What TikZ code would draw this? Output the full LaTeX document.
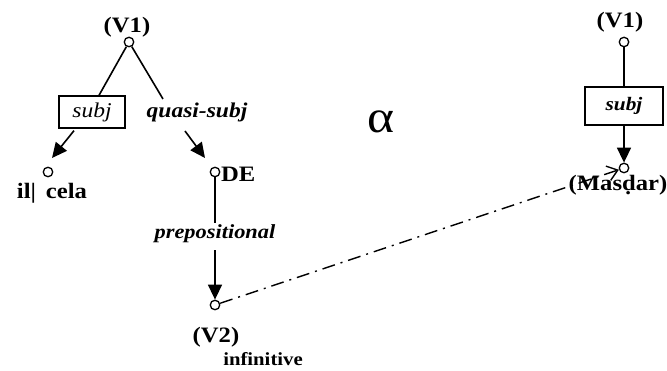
\documentclass[tikz,border=0pt]{standalone}
\usepackage{fontspec}
\setmainfont{Liberation Serif}[FakeStretch=1.12]
\usetikzlibrary{arrows.meta,positioning}

\begin{document}
\begin{tikzpicture}[x=1pt,y=-1pt,
    vtx/.style={circle,draw,line width=1.3pt,minimum size=9.5pt,inner sep=0pt},
    lbl/.style={font=\fontsize{22}{24}\selectfont\bfseries,inner sep=0pt,anchor=base},
    rel/.style={font=\fontsize{21}{24}\selectfont\bfseries\itshape,inner sep=0pt,anchor=base},
    relbox/.style={draw,line width=1.3pt,inner sep=0pt},
    edge/.style={line width=1.6pt},
    arr/.style={edge,-{Triangle[length=15pt,width=14pt]}}]
    \useasboundingbox (0,0) rectangle (667,371);

    % left tree
    \node[vtx] (v1) at (129,42) {};
    \node[lbl] (v1lbl) at (127,33) {(V1)};
    \node[relbox,minimum width=66pt,minimum height=32pt,font=\fontsize{21}{24}\selectfont\itshape] (subjL) at (92,112) {subj};
    \node[rel] (qsubj) at (197,118) {quasi-subj};
    \coordinate (qsTop) at (163,99);
    \coordinate (qsFrom) at (185,131);
    \coordinate (celaTip) at (52,158);
    \coordinate (deTip) at (205,158);
    \draw[edge] (v1) -- ([xshift=7pt]subjL.north);
    \draw[edge] (v1) -- (qsTop);

    \node[vtx] (cela) at (48,172) {};
    \node[lbl] (celalbl) at (52,199) {il|\hspace{0.45em}cela};
    \draw[arr] ([xshift=-18pt,yshift=-2pt]subjL.south) -- (celaTip);

    \node[vtx] (de) at (215,172) {};
    \node[lbl,anchor=base west] (delbl) at (221,182) {DE};
    \draw[arr] (qsFrom) -- (deTip);

    \node[rel,font=\fontsize{20}{24}\selectfont\bfseries\itshape] (prep) at (215,239) {prepositional};
    \draw[edge] (de) -- ([yshift=2pt]prep.north);

    \node[vtx] (v2) at (215,305) {};
    \draw[arr] ([yshift=-7pt]prep.south) -- (v2);
    \node[lbl] (v2lbl) at (216,343) {(V2)};
    \node[lbl,font=\fontsize{18.5}{20}\selectfont\bfseries] (inf) at (263,366) {infinitive};

    \node[inner sep=0pt,anchor=base,font=\fontsize{46}{48}\selectfont] (alpha) at (381,133) {α};

    % right tree
    \node[vtx] (v1r) at (624,42) {};
    \node[lbl] (v1rlbl) at (620,28) {(V1)};
    \node[relbox,minimum width=78pt,minimum height=38pt,font=\fontsize{19}{20}\selectfont\bfseries\itshape] (subjR) at (624,106) {subj};
    \draw[edge] (v1r) -- (subjR);
    \node[vtx] (masd) at (624,168) {};
    \draw[arr] (subjR) -- (masd);
    \node[lbl] (masdlbl) at (618,191) {(Masḍar)};

    \draw[line width=1.4pt,dash pattern=on 13pt off 6pt on 2pt off 6pt,-{Straight Barb[length=10pt,width=15pt]}] (v2) -- (masd);
\end{tikzpicture}
\end{document}
